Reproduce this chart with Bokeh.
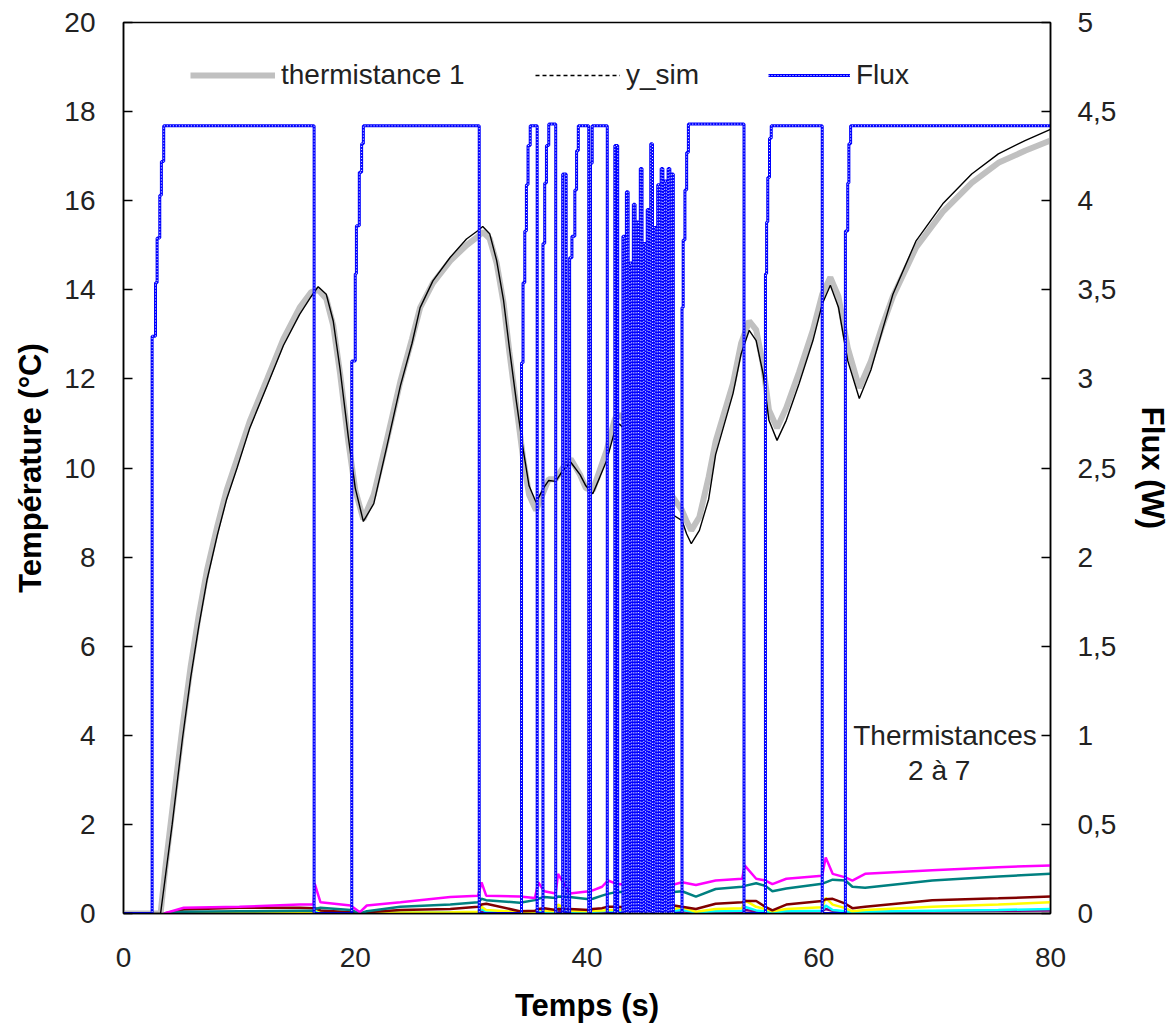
from bokeh.plotting import figure
from bokeh.models import (Range1d, LinearAxis, FixedTicker, Legend, LegendItem,
                          Label, ColumnDataSource)
from bokeh.embed import file_html
from bokeh.resources import INLINE

# ---------------- data ----------------
x_ticks = [0, 20, 40, 60, 80]
temp_ticks = [0, 2, 4, 6, 8, 10, 12, 14, 16, 18, 20]
flux_ticks = [0, 0.5, 1, 1.5, 2, 2.5, 3, 3.5, 4, 4.5, 5]
flux_tick_labels = ["0", "0,5", "1", "1,5", "2", "2,5", "3", "3,5", "4", "4,5", "5"]

t_temp = [0, 3.2, 3.6, 4.2, 5.1, 5.8, 6.5, 7.2, 8.1, 8.9, 9.8, 10.9, 12.4, 13.8,
          15.2, 16.2, 16.8, 17.5, 18.1, 18.7, 19.4, 20.0, 20.7, 21.6, 22.7, 23.9,
          24.9, 25.6, 26.7, 28.2, 29.6, 30.6, 31.0, 31.6, 32.2, 32.8, 33.3, 33.9,
          34.5, 35.0, 35.6, 36.3, 36.7, 37.3, 37.9, 38.6, 39.4, 39.9, 40.5, 41.1,
          41.7, 42.4, 42.8, 43.5, 44.5, 46.0, 47.4, 48.2, 48.6, 49.0, 49.7, 50.5,
          51.1, 52.6, 53.3, 54.0, 54.6, 55.2, 55.7, 56.4, 57.2, 58.3, 59.5, 60.3,
          61.0, 61.7, 62.5, 63.5, 64.5, 65.5, 66.4, 68.4, 70.7, 73.2, 75.5, 77.8,
          80.0]

y_sim = [0, 0, 0.8, 2.0, 3.95, 5.3, 6.45, 7.48, 8.5, 9.3, 10.0, 10.9, 11.85, 12.75,
         13.45, 13.85, 14.07, 13.9, 13.3, 12.2, 10.7, 9.55, 8.8, 9.2, 10.45, 11.85,
         12.8, 13.6, 14.2, 14.73, 15.14, 15.33, 15.42, 15.26, 14.66, 13.76, 12.7, 11.5,
         10.4, 9.6, 9.23, 9.57, 9.72, 9.70, 9.94, 10.13, 9.85, 9.6, 9.42, 9.79,
         10.17, 10.84, 10.99, 10.8, 10.6, 9.8, 8.95, 8.82, 8.52, 8.3, 8.6, 9.3,
         10.3, 11.67, 12.56, 13.09, 12.86, 12.11, 11.07, 10.62, 11.07, 11.89, 12.86, 13.68,
         14.1, 13.61, 12.41, 11.56, 12.2, 13.1, 13.9, 15.1, 15.93, 16.6, 17.05, 17.35,
         17.6]

therm1 = [0, 0, 1.0, 2.3, 4.2, 5.55, 6.7, 7.7, 8.7, 9.5, 10.2, 11.05, 12.0, 12.9,
          13.6, 13.95, 14.0, 13.8, 13.2, 12.1, 10.6, 9.5, 8.85, 9.4, 10.6, 11.95,
          12.9, 13.6, 14.15, 14.65, 15.0, 15.2, 15.3, 15.15, 14.6, 13.7, 12.6, 11.4,
          10.2, 9.4, 9.05, 9.5, 9.75, 9.75, 10.0, 10.2, 9.85, 9.55, 9.5, 9.95,
          10.4, 11.1, 11.2, 11.0, 10.7, 9.9, 9.35, 9.05, 8.8, 8.6, 8.9, 9.8,
          10.6, 11.9, 12.8, 13.3, 13.1, 12.3, 11.3, 10.9, 11.35, 12.15, 13.1, 13.9,
          14.28, 13.85, 12.7, 11.8, 12.4, 13.2, 13.85, 14.95, 15.75, 16.4, 16.85, 17.12,
          17.35]

t_low = [0, 3.5, 5.2, 10, 15.2, 16.4, 16.5, 17.0, 19.6, 20.4, 21.0, 23.9, 28.2,
         30.6, 30.9, 31.3, 34.2, 35.5, 35.8, 36.3, 37.3, 37.5, 38.5, 40.2, 40.5,
         41.3, 41.8, 42.5, 45.0, 47.5, 48.2, 49.4, 51.1, 53.4, 53.6, 54.6, 55.4,
         56.0, 57.2, 60.3, 60.6, 61.2, 62.3, 62.9, 64.0, 69.8, 75.5, 80.0]

therm_magenta = [0, 0, 0.13, 0.15, 0.2, 0.2, 0.67, 0.25, 0.18, 0.03, 0.18, 0.25, 0.37,
                 0.4, 0.7, 0.4, 0.38, 0.35, 0.7, 0.5, 0.45, 0.89, 0.45, 0.5, 0.52,
                 0.6, 0.74, 0.67, 0.6, 0.65, 0.7, 0.64, 0.74, 0.78, 1.08, 0.78, 0.74,
                 0.66, 0.78, 0.85, 1.26, 0.89, 0.81, 0.74, 0.89, 0.97, 1.04, 1.08]
therm_teal = [0, 0, 0.04, 0.05, 0.06, 0.06, 0.1, 0.13, 0.08, 0.0, 0.05, 0.15, 0.2,
              0.25, 0.33, 0.3, 0.24, 0.3, 0.33, 0.37, 0.35, 0.38, 0.37, 0.32, 0.33,
              0.4, 0.44, 0.48, 0.48, 0.48, 0.5, 0.38, 0.55, 0.6, 0.62, 0.68, 0.62,
              0.5, 0.56, 0.67, 0.7, 0.76, 0.74, 0.6, 0.58, 0.74, 0.83, 0.89]
therm_maroon = [0, 0, 0.09, 0.13, 0.13, 0.12, 0.12, 0.07, 0.03, 0.0, 0.03, 0.08, 0.1,
                0.15, 0.2, 0.22, 0.05, 0.06, 0.1, 0.12, 0.08, 0.1, 0.1, 0.08, 0.1,
                0.12, 0.15, 0.15, 0.12, 0.18, 0.15, 0.1, 0.22, 0.25, 0.28, 0.28, 0.15,
                0.07, 0.2, 0.28, 0.32, 0.33, 0.22, 0.12, 0.15, 0.3, 0.34, 0.38]
therm_yellow = [0, 0, 0.02, 0.03, 0.03, 0.03, 0.1, 0.05, 0.02, 0.0, 0.01, 0.02, 0.03,
                0.04, 0.15, 0.08, 0.03, 0.03, 0.1, 0.06, 0.05, 0.2, 0.06, 0.05, 0.06,
                0.07, 0.08, 0.08, 0.08, 0.1, 0.14, 0.04, 0.1, 0.12, 0.3, 0.15, 0.1,
                0.05, 0.1, 0.14, 0.35, 0.2, 0.12, 0.05, 0.08, 0.15, 0.2, 0.25]
therm_cyan = [0, 0, 0.01, 0.02, 0.02, 0.02, 0.06, 0.03, 0.02, 0.0, 0.01, 0.02, 0.02,
              0.03, 0.1, 0.05, 0.02, 0.02, 0.08, 0.04, 0.03, 0.12, 0.04, 0.03, 0.04,
              0.05, 0.06, 0.05, 0.05, 0.06, 0.08, 0.03, 0.05, 0.06, 0.15, 0.07, 0.05,
              0.02, 0.05, 0.06, 0.18, 0.08, 0.05, 0.02, 0.04, 0.06, 0.08, 0.1]
therm_purple = [0, 0, 0.01, 0.01, 0.01, 0.01, 0.03, 0.02, 0.01, 0.0, 0.0, 0.01, 0.01,
                0.02, 0.05, 0.03, 0.01, 0.01, 0.04, 0.02, 0.02, 0.06, 0.02, 0.02, 0.02,
                0.03, 0.03, 0.03, 0.03, 0.04, 0.05, 0.02, 0.03, 0.04, 0.08, 0.05, 0.04,
                0.02, 0.04, 0.05, 0.1, 0.06, 0.04, 0.02, 0.03, 0.05, 0.06, 0.07]

flux_t = [0.0, 2.47, 2.76, 2.90, 3.13, 3.27, 3.47, 16.45,
          19.70, 20.00, 20.10, 20.35, 20.55, 20.70, 30.70,
          34.35, 34.48, 34.63, 34.77, 34.91, 35.10, 35.70,
          36.20, 36.35, 36.50, 36.70, 37.30,
          37.90, 38.20,
          38.50, 38.70, 38.95, 39.10, 39.25, 40.15,
          40.30, 40.45, 41.75,
          42.40, 42.65,
          43.10, 43.25, 43.40, 43.55, 43.70, 43.85, 44.00, 44.15, 44.30, 44.45,
          44.60, 44.75, 44.90, 45.05, 45.20, 45.35, 45.50, 45.65, 45.80, 45.95,
          46.10, 46.25, 46.40, 46.55, 46.70, 46.85, 47.00, 47.15, 47.30, 47.45,
          48.20, 48.30, 48.45, 48.60, 48.75, 53.55,
          55.40, 55.50, 55.60, 55.75, 55.90, 60.30,
          62.30, 62.50, 62.60, 62.75, 80.0]
flux_v = [0, 3.24, 3.54, 3.79, 4.03, 4.22, 4.42, 0,
          3.10, 3.59, 3.86, 4.16, 4.32, 4.42, 0,
          3.09, 3.54, 3.83, 4.09, 4.31, 4.42, 0,
          3.76, 4.10, 4.31, 4.43, 0,
          4.15, 0,
          3.68, 3.80, 4.06, 4.28, 4.42, 0,
          4.21, 4.42, 0,
          4.31, 0,
          3.80, 0, 4.05, 0, 3.65, 0, 3.98, 0, 3.88, 0,
          4.18, 0, 3.76, 0, 3.95, 0, 4.32, 0, 3.85, 0,
          4.09, 0, 4.18, 0, 4.11, 0, 4.18, 0, 4.15, 0,
          3.40, 3.78, 4.06, 4.27, 4.43, 0,
          3.59, 3.88, 4.13, 4.35, 4.42, 0,
          3.83, 4.10, 4.32, 4.42, 4.42]

# ---------------- figure ----------------
FONT = "Liberation Sans"
W, H = 1173, 1032
p = figure(width=W, height=H, output_backend="svg", toolbar_location=None,
           x_range=Range1d(0, 80), y_range=Range1d(0, 20),
           min_border_left=123, min_border_right=W - 1052,
           min_border_top=22, min_border_bottom=H - 913)
p.background_fill_color = "white"
p.border_fill_color = "white"
p.outline_line_color = "black"
p.outline_line_width = 1.5
p.xgrid.visible = False
p.ygrid.visible = False
p.extra_y_ranges = {"flux": Range1d(0, 5)}

src_temp = ColumnDataSource(dict(t=t_temp, sim=y_sim, th1=therm1))
src_low = ColumnDataSource(dict(t=t_low, m=therm_magenta, te=therm_teal, ma=therm_maroon,
                                ye=therm_yellow, cy=therm_cyan, pu=therm_purple))
src_flux = ColumnDataSource(dict(t=flux_t, v=flux_v))

for col, color in [("pu", "#800080"), ("cy", "#00FFFF"), ("ye", "#FFFF00"),
                   ("ma", "#800000"), ("te", "#008080"), ("m", "#FF00FF")]:
    p.line("t", col, source=src_low, line_color=color, line_width=2.5)

r_th1 = p.line("t", "th1", source=src_temp, line_color="#C0C0C0", line_width=6)
r_sim = p.line("t", "sim", source=src_temp, line_color="black", line_width=1.4)
# off-screen copy used only for the dashed legend sample of y_sim
r_sim_leg = p.line([-20, -10], [-20, -20], line_color="black", line_width=1.4,
                   line_dash="4 3")
r_flux = p.step("t", "v", source=src_flux, mode="after", y_range_name="flux",
                line_color="#0000FF", line_width=3)
r_flux_w = p.step("t", "v", source=src_flux, mode="after", y_range_name="flux",
                  line_color="white", line_width=1, line_dash="1 2")

# ---------------- axes ----------------
def style_axis(ax):
    ax.axis_line_color = "black"
    ax.axis_line_width = 1.5
    ax.major_tick_line_color = "black"
    ax.major_tick_line_width = 1.5
    ax.minor_tick_line_color = None
    ax.major_label_text_font = FONT
    ax.major_label_text_font_size = "28px"
    ax.major_label_text_color = "#222222"
    ax.axis_label_text_font = FONT
    ax.axis_label_text_font_size = "31px"
    ax.axis_label_text_font_style = "bold"
    ax.axis_label_text_color = "black"

xa = p.xaxis[0]
style_axis(xa)
xa.ticker = FixedTicker(ticks=x_ticks)
xa.major_tick_in = 0
xa.major_tick_out = 0
xa.major_label_standoff = 34
xa.axis_label = "Temps (s)"
xa.axis_label_standoff = 18

ya = p.yaxis[0]
style_axis(ya)
ya.ticker = FixedTicker(ticks=temp_ticks)
ya.major_tick_in = 9
ya.major_tick_out = 0
ya.major_label_standoff = 28
ya.axis_label = "Température (°C)"
ya.axis_label_standoff = 13

ra = LinearAxis(y_range_name="flux")
style_axis(ra)
ra.ticker = FixedTicker(ticks=flux_ticks)
ra.major_label_overrides = {k: v for k, v in zip(flux_ticks, flux_tick_labels)}
ra.major_tick_in = 9
ra.major_tick_out = 0
ra.major_label_standoff = 27
ra.axis_label = "Flux (W)"
ra.axis_label_standoff = 16
p.add_layout(ra, "right")

# ---------------- legends ----------------
def make_legend(label, renderers, x, width):
    lg = Legend(items=[LegendItem(label=label, renderers=renderers)],
                location=(x, 822), orientation="horizontal",
                glyph_width=width, glyph_height=32, label_height=32,
                label_standoff=6, padding=0, margin=0, spacing=0,
                border_line_color=None, background_fill_alpha=0,
                label_text_font=FONT, label_text_font_size="28px",
                label_text_color="#222222")
    p.add_layout(lg, "center")

make_legend("thermistance 1", [r_th1], 67, 85)
make_legend("y_sim", [r_sim_leg], 412, 85)
make_legend("Flux", [r_flux, r_flux_w], 645, 82)

# ---------------- annotation ----------------
p.add_layout(Label(x=70.9, y=4.0, text="Thermistances", text_align="center",
                   text_baseline="middle", text_font=FONT, text_font_size="28px",
                   text_color="#222222"))
p.add_layout(Label(x=70.4, y=3.2, text="2 à 7", text_align="center",
                   text_baseline="middle", text_font=FONT, text_font_size="28px",
                   text_color="#222222"))

open("out.html", "w").write(file_html(p, INLINE))
